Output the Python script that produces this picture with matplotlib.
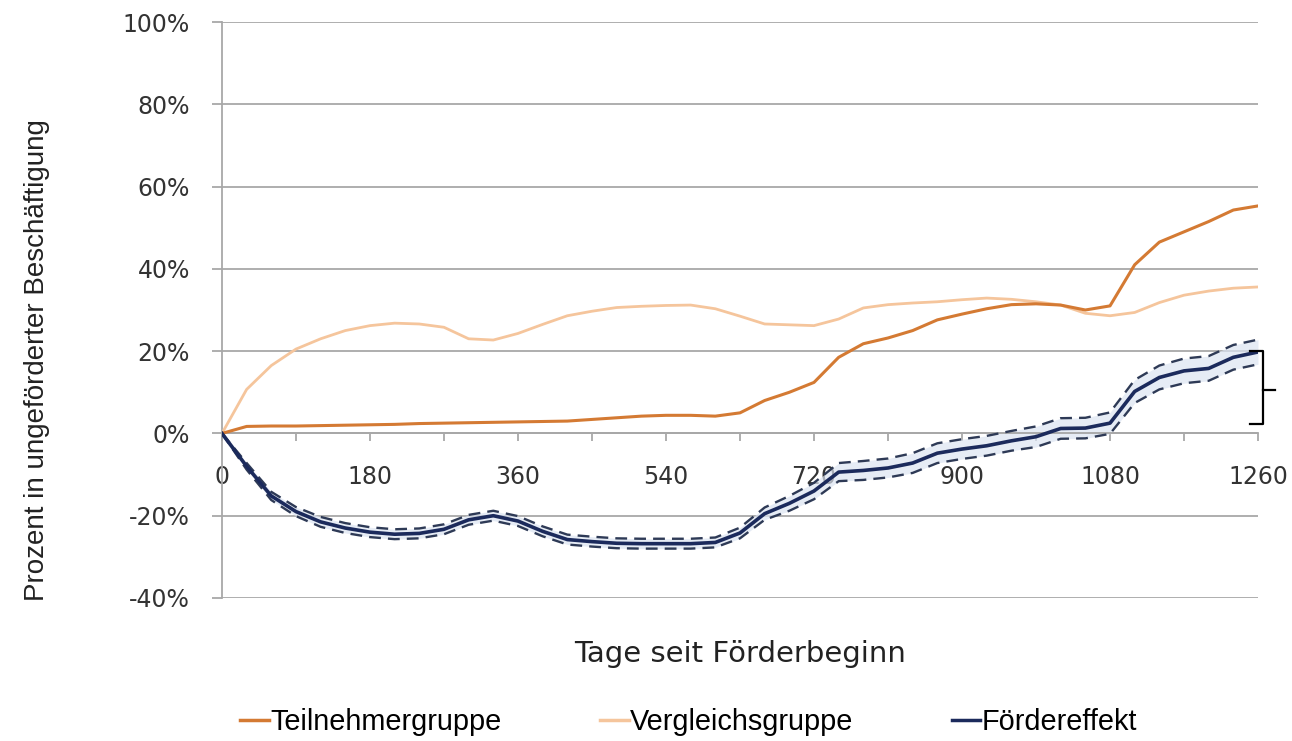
import numpy as np
import matplotlib.pyplot as plt
from matplotlib.ticker import MultipleLocator, FuncFormatter
from matplotlib.lines import Line2D

# Tage seit Förderbeginn
days = list(range(0, 1261, 30))

# Anteil in ungeförderter Beschäftigung (%)
teilnehmer = [0.0, 1.7, 1.8, 1.8, 1.9, 2.0, 2.1, 2.2, 2.4, 2.5, 2.6, 2.7, 2.8, 2.9,
              3.0, 3.4, 3.8, 4.2, 4.4, 4.4, 4.2, 5.0, 8.0, 10.0, 12.4, 18.5, 21.8,
              23.2, 25.0, 27.6, 29.0, 30.3, 31.3, 31.5, 31.2, 30.0, 31.0, 41.0,
              46.5, 49.0, 51.5, 54.3, 55.3]
vergleich = [0.0, 10.7, 16.5, 20.5, 23.0, 25.0, 26.2, 26.8, 26.6, 25.8, 23.0, 22.7,
             24.3, 26.5, 28.6, 29.7, 30.6, 30.9, 31.1, 31.2, 30.3, 28.5, 26.6, 26.4,
             26.2, 27.8, 30.5, 31.3, 31.7, 32.0, 32.5, 32.9, 32.6, 32.0, 31.2, 29.2,
             28.6, 29.4, 31.8, 33.6, 34.6, 35.3, 35.6]
foerder = [0.0, -8.0, -15.2, -19.0, -21.5, -23.0, -24.0, -24.5, -24.3, -23.3, -21.0,
           -20.0, -21.3, -23.8, -25.8, -26.3, -26.7, -26.8, -26.8, -26.8, -26.5,
           -24.2, -19.5, -17.0, -14.0, -9.4, -9.0, -8.4, -7.2, -4.8, -3.8, -3.0,
           -1.8, -0.8, 1.2, 1.3, 2.5, 10.2, 13.6, 15.2, 15.8, 18.5, 19.8]
# halbe Breite des Konfidenzbands
ci_half = [0.0, 0.8, 1.0, 1.1, 1.2, 1.2, 1.2, 1.2, 1.2, 1.2, 1.2, 1.2, 1.2, 1.2,
           1.2, 1.2, 1.2, 1.2, 1.2, 1.2, 1.2, 1.3, 1.5, 1.8, 2.0, 2.2, 2.3, 2.3,
           2.4, 2.4, 2.4, 2.4, 2.4, 2.5, 2.5, 2.5, 2.6, 2.8, 2.9, 3.0, 3.0, 3.0, 3.0]

c_teil = "#D47A33"
c_verg = "#F5C59C"
c_foer = "#1B2A5C"
c_dash = "#2E3A56"
c_grid = "#A8A8A8"

x = np.array(days)
f = np.array(foerder)
ci = np.array(ci_half)

fig = plt.figure(figsize=(12.92, 7.41), dpi=100)
ax = fig.add_axes([0.1718, 0.193, 0.9737 - 0.1718, 0.9703 - 0.193])

ax.set_xlim(0, 1260)
ax.set_ylim(-40, 100)

ax.yaxis.set_major_locator(MultipleLocator(20))
ax.yaxis.set_major_formatter(FuncFormatter(lambda v, p: f"{v:.0f}%"))
ax.xaxis.set_major_locator(MultipleLocator(180))
ax.xaxis.set_minor_locator(MultipleLocator(90))
ax.grid(axis="y", color=c_grid, lw=1.3, zorder=0)

for s in ["top", "right"]:
    ax.spines[s].set_visible(False)
ax.spines["bottom"].set_position(("data", 0))
ax.spines["bottom"].set_color(c_grid)
ax.spines["bottom"].set_linewidth(1.3)
ax.spines["left"].set_color(c_grid)
ax.spines["left"].set_linewidth(1.3)

ax.tick_params(axis="y", length=7, width=1.3, color=c_grid, pad=16,
               labelsize=17, labelcolor="#333333")
ax.tick_params(axis="x", which="both", direction="out", length=6, width=1.3,
               color=c_grid, pad=17, labelsize=17, labelcolor="#333333")

ax.fill_between(x, f - ci, f + ci, color="#DCE4F2", alpha=0.7, lw=0, zorder=2)
ax.plot(x, f + ci, color=c_dash, lw=1.7, ls=(0, (5, 3)), zorder=3)
ax.plot(x, f - ci, color=c_dash, lw=1.7, ls=(0, (5, 3)), zorder=3)
ax.plot(x, vergleich, color=c_verg, lw=2.0, zorder=3)
ax.plot(x, teilnehmer, color=c_teil, lw=2.2, zorder=4)
ax.plot(x, foerder, color=c_foer, lw=2.6, zorder=5)

# Klammer rechts
kw = dict(color="black", lw=1.6, clip_on=False, zorder=6)
ax.plot([1250, 1266, 1266, 1250], [20, 20, 2.2, 2.2], **kw)
ax.plot([1266, 1281], [10.5, 10.5], **kw)

ax.set_xlabel("Tage seit Förderbeginn", fontsize=21, color="#222222")
ax.xaxis.set_label_coords(0.5, -0.073)
ax.set_ylabel("Prozent in ungeförderter Beschäftigung", fontsize=20,
              family="Liberation Sans", color="#222222")
ax.yaxis.set_label_coords(-0.166, 0.413)

handles = [Line2D([], [], color=c_teil, lw=2.5),
           Line2D([], [], color=c_verg, lw=2.5),
           Line2D([], [], color=c_foer, lw=2.5)]
fig.legend(handles, ["Teilnehmergruppe", "Vergleichsgruppe", "Fördereffekt"],
           loc="center", bbox_to_anchor=(0.533, 0.026), ncol=3, frameon=False,
           handlelength=1.0, handletextpad=0.05, columnspacing=3.4,
           prop={"family": "Liberation Sans", "size": 20.8})

fig.savefig("out.png", dpi=100)
